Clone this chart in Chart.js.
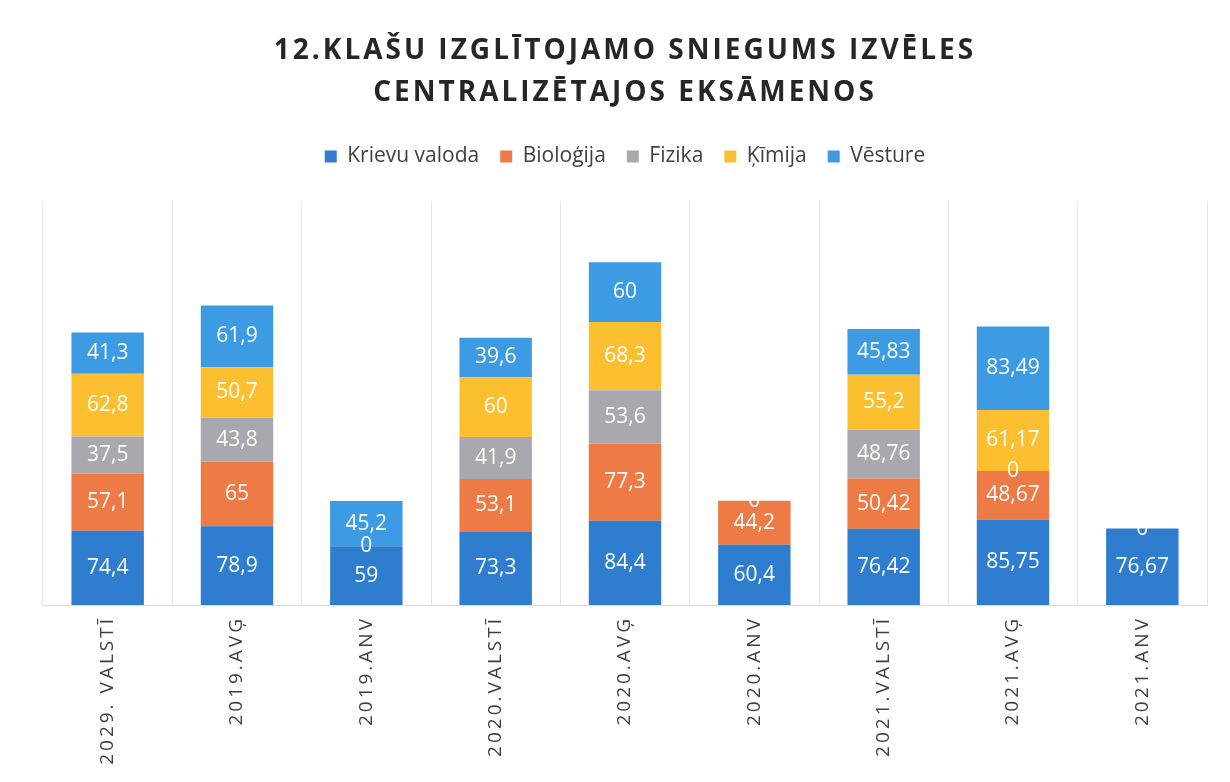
<!DOCTYPE html>
<html>
<head>
<meta charset="utf-8">
<script src="https://cdn.jsdelivr.net/npm/chart.js@4"></script>
<style>
  html, body { margin: 0; padding: 0; background: #fff; }
  #wrap { width: 1230px; height: 782px; position: relative; }
</style>
</head>
<body>
<div id="wrap"><canvas id="examChart"></canvas></div>
<script>
const categories = ['2029. VALSTĪ', '2019.AVĢ', '2019.ANV', '2020.VALSTĪ', '2020.AVĢ', '2020.ANV', '2021.VALSTĪ', '2021.AVĢ', '2021.ANV'];
const krievuValoda = [74.4, 78.9, 59, 73.3, 84.4, 60.4, 76.42, 85.75, 76.67];
const biologija = [57.1, 65, 0, 53.1, 77.3, 44.2, 50.42, 48.67, 0];
const fizika = [37.5, 43.8, null, 41.9, 53.6, 0, 48.76, 0, null];
const kimija = [62.8, 50.7, null, 60, 68.3, null, 55.2, 61.17, null];
const vesture = [41.3, 61.9, 45.2, 39.6, 60, null, 45.83, 83.49, null];

// wrap a draw method so its text gets letter spacing
const withSpacing = (obj, method, spacing) => {
  if (!obj || obj['_spaced_' + method]) return;
  const orig = obj[method];
  obj[method] = function (...args) {
    const ctx = this.ctx;
    const prev = ctx.letterSpacing;
    ctx.letterSpacing = spacing;
    orig.apply(this, args);
    ctx.letterSpacing = prev || '0px';
  };
  obj['_spaced_' + method] = true;
};

const spacingPlugin = {
  id: 'spacing',
  beforeDraw(chart) {
    withSpacing(chart.titleBlock, 'draw', '3px');
    withSpacing(chart.scales.x, 'drawLabels', '3px');
  }
};

// white value labels centred in each segment
const valueLabels = {
  id: 'valueLabels',
  afterDatasetsDraw(chart) {
    const ctx = chart.ctx;
    ctx.save();
    ctx.letterSpacing = '0px';
    ctx.font = '21px "Open Sans"';
    ctx.fillStyle = '#ffffff';
    ctx.textAlign = 'center';
    ctx.textBaseline = 'middle';
    chart.data.datasets.forEach((ds, i) => {
      const meta = chart.getDatasetMeta(i);
      meta.data.forEach((bar, j) => {
        const v = ds.data[j];
        if (v === null || v === undefined) return;
        ctx.fillText(String(v).replace('.', ','), bar.x, (bar.y + bar.base) / 2);
      });
    });
    ctx.restore();
  }
};

const makeSet = (label, data, color) => ({
  label: label,
  data: data,
  backgroundColor: color,
  borderWidth: 0,
  barPercentage: 0.56,
  categoryPercentage: 1
});

new Chart(document.getElementById('examChart'), {
  type: 'bar',
  data: {
    labels: categories,
    datasets: [
      makeSet('Krievu valoda', krievuValoda, '#2E7DCF'),
      makeSet('Bioloģija', biologija, '#EE7A45'),
      makeSet('Fizika', fizika, '#A8A8AE'),
      makeSet('Ķīmija', kimija, '#FBBF30'),
      makeSet('Vēsture', vesture, '#3C9BE3')
    ]
  },
  options: {
    responsive: true,
    maintainAspectRatio: false,
    animation: false,
    layout: { padding: { left: 43, right: 23, top: 0, bottom: 0 } },
    plugins: {
      title: {
        display: true,
        text: ['12.KLAŠU IZGLĪTOJAMO SNIEGUMS IZVĒLES', 'CENTRALIZĒTAJOS EKSĀMENOS'],
        color: '#262626',
        font: { family: '"Open Sans"', size: 28, weight: 'bold', lineHeight: 1.5 },
        padding: { top: 30, bottom: 11 }
      },
      legend: {
        display: true,
        labels: {
          color: '#404040',
          font: { family: '"Open Sans"', size: 21 },
          boxWidth: 12,
          boxHeight: 12,
          padding: 21
        }
      },
      tooltip: { enabled: false }
    },
    scales: {
      x: {
        stacked: true,
        grid: { color: '#e6e6e6', drawTicks: false, offset: true },
        border: { display: true, color: '#dcdcdc' },
        ticks: {
          color: '#404040',
          font: { family: '"Open Sans"', size: 19 },
          minRotation: 90,
          maxRotation: 90,
          padding: 11,
          autoSkip: false
        },
        afterFit: (s) => { s.height = 177; }
      },
      y: {
        stacked: true,
        display: false,
        min: 0,
        max: 405
      },
      spacer: {
        type: 'linear',
        position: 'top',
        display: true,
        grid: { display: false, drawTicks: false },
        border: { display: false },
        ticks: { display: false },
        afterFit: (s) => { s.height = 24; }
      }
    }
  },
  plugins: [spacingPlugin, valueLabels]
});
</script>
</body>
</html>
